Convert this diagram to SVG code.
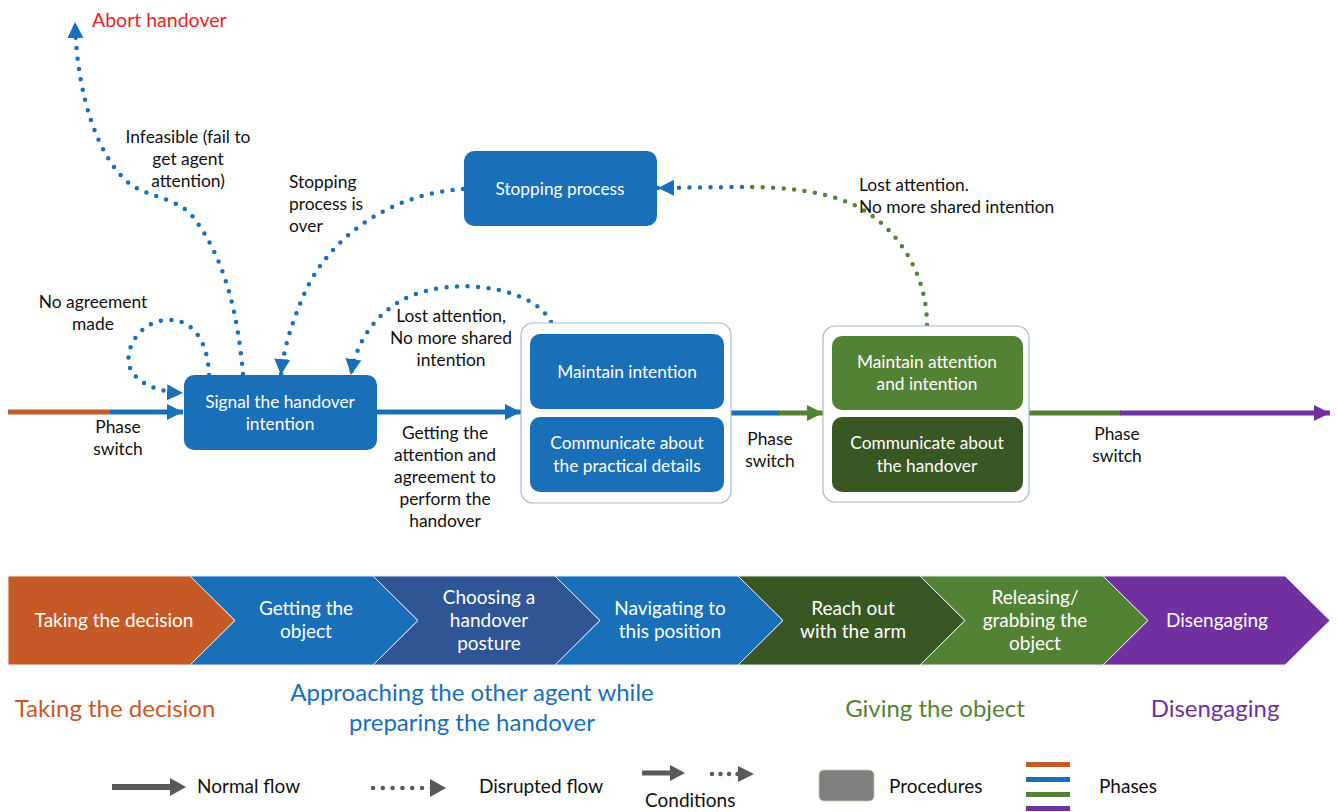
<svg xmlns="http://www.w3.org/2000/svg" width="1337" height="812" viewBox="0 0 1337 812">
<defs>
<style>
text{font-family:Lato,"Liberation Sans",sans-serif;}
.lbl{font-size:17.4px;fill:#111;}
.lblc{font-size:17.4px;fill:#111;text-anchor:middle;}
.wt{font-size:17.3px;fill:#fff;text-anchor:middle;}
.ch{font-size:19px;fill:#fff;text-anchor:middle;}
.ph{font-size:24px;text-anchor:middle;}
.box{fill:#1A6FB9;}
.cont{fill:#fff;stroke:#A7BBD4;stroke-width:1.2;}
.dot{fill:none;stroke-width:4.5;stroke-linecap:round;stroke-dasharray:0 10.5;}
.main{fill:none;stroke-width:5;}
.chev{stroke:#E6ECF3;stroke-width:1;}
.leg{font-size:19px;fill:#111;}
</style>
<marker id="hb" viewBox="0 0 16 16" refX="16" refY="8" markerWidth="16" markerHeight="17" markerUnits="userSpaceOnUse" orient="auto"><path d="M0,0 L16,8 L0,16 Z" fill="#1A6FB9"/></marker>
<marker id="hg" viewBox="0 0 16 16" refX="16" refY="8" markerWidth="16" markerHeight="17" markerUnits="userSpaceOnUse" orient="auto"><path d="M0,0 L16,8 L0,16 Z" fill="#548235"/></marker>
<marker id="hp" viewBox="0 0 16 16" refX="16" refY="8" markerWidth="16" markerHeight="17" markerUnits="userSpaceOnUse" orient="auto"><path d="M0,0 L16,8 L0,16 Z" fill="#7030A0"/></marker>
</defs>
<rect width="1337" height="812" fill="#fff"/>

<g id="connectors">
<line x1="8" y1="412" x2="110" y2="412" class="main" stroke="#C55A28"/>
<line x1="110" y1="412" x2="183" y2="412" class="main" stroke="#1A6FB9" marker-end="url(#hb)"/>
<line x1="377" y1="412" x2="521" y2="412" class="main" stroke="#1A6FB9" marker-end="url(#hb)"/>
<line x1="731" y1="413" x2="779" y2="413" class="main" stroke="#1A6FB9"/>
<line x1="778" y1="413" x2="823" y2="413" class="main" stroke="#548235" marker-end="url(#hg)"/>
<line x1="1029" y1="413" x2="1121" y2="413" class="main" stroke="#548235"/>
<line x1="1120" y1="413" x2="1330" y2="413" class="main" stroke="#7030A0" marker-end="url(#hp)"/>
<path class="dot" stroke="#1A6FB9" d="M243,374 C239,330 230,262 190,213 C170,196 150,198 130,184 C100,160 77,100 75,22" marker-end="url(#hb)"/>
<path class="dot" stroke="#1A6FB9" d="M209,375 C208,338 190,318 166,320 C138,322 122,352 131,370 C139,385 160,392 183,393" marker-end="url(#hb)"/>
<path class="dot" stroke="#1A6FB9" d="M463,189 C400,193 335,228 305,292 C292,322 283,350 281,375" marker-end="url(#hb)"/>
<path class="dot" stroke="#1A6FB9" d="M551,322 C535,290 470,280 430,290 C390,298 358,330 351,375" marker-end="url(#hb)"/>
<path class="dot" stroke="#548235" d="M927,325 C927,280 903,228 852,204 C825,192 790,187 742,187"/>
<path class="dot" stroke="#1A6FB9" d="M742,187 L658,188" marker-end="url(#hb)"/>
</g>

<g id="abort-label"><text x="92" y="27" font-size="19.5" fill="#E8232A">Abort handover</text></g>

<g id="cond-labels">
<text class="lblc" x="188" y="143">Infeasible (fail to</text>
<text class="lblc" x="188" y="165">get agent</text>
<text class="lblc" x="188" y="187">attention)</text>
<text class="lbl" x="289" y="188">Stopping</text>
<text class="lbl" x="289" y="210">process is</text>
<text class="lbl" x="289" y="232">over</text>
<text class="lbl" x="859" y="191">Lost attention.</text>
<text class="lbl" x="859" y="213">No more shared intention</text>
<text class="lblc" x="93" y="308">No agreement</text>
<text class="lblc" x="93" y="330">made</text>
<text class="lblc" x="451" y="322">Lost attention,</text>
<text class="lblc" x="451" y="344">No more shared</text>
<text class="lblc" x="451" y="366">intention</text>
<text class="lblc" x="118" y="433">Phase</text>
<text class="lblc" x="118" y="455">switch</text>
<text class="lblc" x="445" y="439">Getting the</text>
<text class="lblc" x="445" y="461">attention and</text>
<text class="lblc" x="445" y="483">agreement to</text>
<text class="lblc" x="445" y="505">perform the</text>
<text class="lblc" x="445" y="527">handover</text>
<text class="lblc" x="770" y="445">Phase</text>
<text class="lblc" x="770" y="467">switch</text>
<text class="lblc" x="1117" y="440">Phase</text>
<text class="lblc" x="1117" y="462">switch</text>
</g>

<g id="signal">
<rect class="box" x="184" y="375" width="193" height="75" rx="10"/>
<text class="wt" x="280" y="408">Signal the handover</text>
<text class="wt" x="280" y="430">intention</text>
</g>

<g id="stopping">
<rect class="box" x="464" y="151" width="193" height="75" rx="10"/>
<text class="wt" x="560" y="195">Stopping process</text>
</g>

<g id="approach-group">
<rect class="cont" x="521" y="323" width="210" height="180" rx="12"/>
<g id="maintain-intention">
<rect class="box" x="530" y="334" width="194" height="75" rx="10"/>
<text class="wt" x="627" y="378">Maintain intention</text>
</g>
<g id="communicate-details">
<rect class="box" x="530" y="417" width="194" height="75" rx="10"/>
<text class="wt" x="627" y="449">Communicate about</text>
<text class="wt" x="627" y="472">the practical details</text>
</g>
</g>

<g id="giving-group">
<rect class="cont" x="823" y="326" width="206" height="176" rx="12"/>
<g id="maintain-attention">
<rect x="832" y="336" width="191" height="74" rx="10" fill="#548235"/>
<text class="wt" x="927" y="368">Maintain attention</text>
<text class="wt" x="927" y="390">and intention</text>
</g>
<g id="communicate-handover">
<rect x="832" y="417" width="191" height="75" rx="10" fill="#385723"/>
<text class="wt" x="927" y="449">Communicate about</text>
<text class="wt" x="927" y="472">the handover</text>
</g>
</g>

<g id="steps">
<polygon class="chev" fill="#C55A28" points="8,576 190,576 235,620.5 190,665 8,665"/>
<polygon class="chev" fill="#1A6FB9" points="190,576 373,576 418,620.5 373,665 190,665 235,620.5"/>
<polygon class="chev" fill="#2F5597" points="373,576 555,576 600,620.5 555,665 373,665 418,620.5"/>
<polygon class="chev" fill="#1A6FB9" points="555,576 738,576 783,620.5 738,665 555,665 600,620.5"/>
<polygon class="chev" fill="#385723" points="738,576 920,576 965,620.5 920,665 738,665 783,620.5"/>
<polygon class="chev" fill="#548235" points="920,576 1103,576 1148,620.5 1103,665 920,665 965,620.5"/>
<polygon class="chev" fill="#7030A0" points="1103,576 1285,576 1330,620.5 1285,665 1103,665 1148,620.5"/>
<text class="ch" x="114" y="627">Taking the decision</text>
<text class="ch" x="306" y="615">Getting the</text>
<text class="ch" x="306" y="638">object</text>
<text class="ch" x="489" y="604">Choosing a</text>
<text class="ch" x="489" y="627">handover</text>
<text class="ch" x="489" y="650">posture</text>
<text class="ch" x="670" y="615">Navigating to</text>
<text class="ch" x="670" y="638">this position</text>
<text class="ch" x="853" y="615">Reach out</text>
<text class="ch" x="853" y="638">with the arm</text>
<text class="ch" x="1035" y="604">Releasing/</text>
<text class="ch" x="1035" y="627">grabbing the</text>
<text class="ch" x="1035" y="650">object</text>
<text class="ch" x="1217" y="627">Disengaging</text>
</g>

<g id="phases">
<text class="ph" x="115" y="717" fill="#C55A28">Taking the decision</text>
<text class="ph" x="472" y="701" fill="#1A6FB9">Approaching the other agent while</text>
<text class="ph" x="472" y="731" fill="#1A6FB9">preparing the handover</text>
<text class="ph" x="935" y="717" fill="#548235">Giving the object</text>
<text class="ph" x="1215" y="717" fill="#7030A0">Disengaging</text>
</g>

<g id="legend">
<line x1="112" y1="787" x2="172" y2="787" stroke="#595959" stroke-width="6"/>
<polygon points="170,778 186,787 170,796" fill="#595959"/>
<text class="leg" x="197" y="793">Normal flow</text>
<line x1="373" y1="788" x2="432" y2="788" stroke="#595959" stroke-width="4.5" stroke-linecap="round" stroke-dasharray="0 9.8"/>
<polygon points="430,779 446,788 430,797" fill="#595959"/>
<text class="leg" x="479" y="793">Disrupted flow</text>
<line x1="642" y1="773" x2="672" y2="773" stroke="#595959" stroke-width="5"/>
<polygon points="670,765 685,773 670,781" fill="#595959"/>
<line x1="712" y1="774" x2="740" y2="774" stroke="#595959" stroke-width="4.5" stroke-linecap="round" stroke-dasharray="0 8.5"/>
<polygon points="738,766 754,774 738,782" fill="#595959"/>
<text class="leg" x="645" y="807">Conditions</text>
<rect x="819" y="770" width="55" height="31" rx="5" fill="#7F7F7F" stroke="#B5CFA3" stroke-width="0.8"/>
<text class="leg" x="889" y="793">Procedures</text>
<rect x="1026" y="762" width="44" height="5" fill="#C55A28"/>
<rect x="1026" y="777" width="44" height="5" fill="#1A6FB9"/>
<rect x="1026" y="792" width="44" height="5" fill="#548235"/>
<rect x="1026" y="806" width="44" height="5" fill="#7030A0"/>
<text class="leg" x="1099" y="793">Phases</text>
</g>
</svg>
